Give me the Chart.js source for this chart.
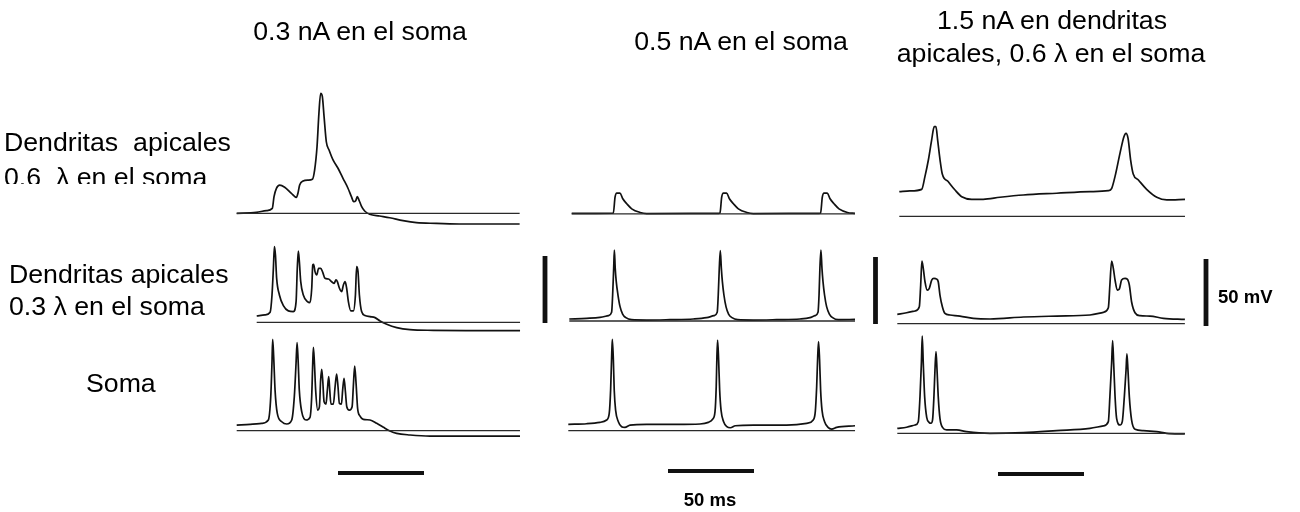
<!DOCTYPE html>
<html><head><meta charset="utf-8">
<script src="https://cdn.jsdelivr.net/npm/chart.js@4"></script>
<style>
html,body{margin:0;padding:0;background:#fff;}
#wrap{position:relative;width:1300px;height:512px;overflow:hidden;background:#fff;}
canvas{position:absolute;left:0;top:0;}
.lbl{position:absolute;font-family:"Liberation Sans",Arial,sans-serif;font-size:26.7px;color:#000;white-space:pre;line-height:1;transform:translateY(-50%);}
.ctr{transform:translate(-50%,-50%);}
.bold{font-weight:bold;font-size:18.5px;}
.clip{position:absolute;overflow:hidden;}
</style></head><body>
<div id="wrap">
<canvas id="c" width="1300" height="512"></canvas>
</div>
<script>
// ---------- data (time in ms, membrane potential in mV above reference line) ----------
const columnTitles = ["0.3 nA en el soma", "0.5 nA en el soma", "1.5 nA en dendritas\napicales, 0.6 λ en el soma"];
const rowLabels = ["Dendritas  apicales\n0.6  λ en el soma", "Dendritas apicales\n0.3 λ en el soma", "Soma"];
const scaleBarMV = 50;
const scaleBarMS = 50;

// Row 1: apical dendrites 0.6 λ
const apical06_I03 = [[0,0],[11.4,0.7],[17.3,2],[20.7,3.7],[21.7,12.4],[23.1,18.6],[25,21],[27.9,19.4],[31.8,14.9],[34.7,11.9],[35.6,14.9],[36.6,21.1],[38.6,24.1],[41.5,24.8],[44,25.4],[45.3,32.3],[46.7,49.7],[47.8,74.6],[48.8,89.6],[49.8,87],[50.8,72.1],[52.1,53.4],[53.7,47.2],[56,39.8],[58.9,33.6],[61.8,26.1],[64.7,18.7],[66.7,12.4],[68,8.7],[69.2,9.4],[70.1,12.4],[71.1,9.9],[72.5,5.4],[74.4,1.7],[77.3,-0.7],[83.1,-2],[89,-3.3],[96.7,-5.5],[104.5,-7],[116.1,-7.5],[131.6,-8],[164.5,-8]];
const apical06_I05 = [[0,0.3],[24.2,0.5],[25.2,12.4],[26.2,15.4],[28.1,15.4],[29.7,11.2],[32,7.5],[34.9,3.7],[39.8,1],[43.6,0.2],[85.5,0.3],[86.2,0.5],[87.2,12.4],[88.2,15.4],[90.1,15.4],[91.7,11.2],[94,7.5],[96.9,3.7],[101.8,1],[105.6,0.2],[143.9,0.3],[144.7,0.5],[145.7,12.4],[146.7,15.4],[148.6,15.4],[150.2,11.2],[152.5,7.5],[155.4,3.7],[160.3,1],[164.7,0.3]];
const apical06_Idend = [[0,18.4],[6.2,18.9],[13,20.1],[14.9,29.6],[16.9,42],[18.8,56.9],[20.3,66.9],[21.3,66.9],[22.3,56.9],[23.7,42],[25,31.6],[28.5,25.8],[32.4,19.6],[36.3,14.6],[42.1,12.7],[48.8,12.7],[58.5,14.2],[72.1,15.9],[91.5,17.2],[110.9,18.4],[121.5,19.1],[123.5,20.9],[125.4,29.6],[128.3,47],[130.6,59.4],[131.8,61.9],[133,58.2],[134.5,42],[136,31.6],[139,27.1],[143.8,20.1],[149.7,14.2],[155.5,12.2],[166.1,12.7]];
// Row 2: apical dendrites 0.3 λ
const apical03_I03 = [[0,4.7],[4.8,5.5],[7.8,7.5],[8.9,20.4],[9.7,40.3],[10.3,56.5],[10.9,50.2],[11.6,32.8],[13.2,20.4],[15.5,12.4],[18.4,8.5],[21.3,8],[22.9,15.4],[23.6,40.3],[24.2,53.2],[24.8,45.3],[25.6,30.3],[27.1,20.4],[29.5,15.4],[31,14.7],[32,25.4],[32.6,42.8],[33.1,43.3],[33.9,37.8],[34.9,35.3],[36,40.3],[37.2,40.3],[38.4,37.3],[39.7,32.8],[41.7,32.3],[43.6,30.3],[45,29.1],[46.1,31.6],[46.9,30.3],[48.1,25.4],[49.4,22.9],[50.4,27.9],[51.4,30.3],[52.3,25.4],[53.3,15.4],[54.7,8.5],[56.2,8.5],[57.4,20.4],[58.1,41.5],[58.9,37.8],[59.7,20.4],[61,8],[63,5],[65.9,4.2],[68.8,3.5],[71.7,1],[75.6,-1.5],[81.4,-4],[89.1,-5.5],[102.7,-6],[122.1,-6.2],[153.1,-6.2]];
const apical03_I05 = [[0,1.5],[10.1,2],[17.8,2.7],[22.7,4],[24.6,6.5],[25.2,19.4],[25.8,39.3],[26.2,53],[26.7,39.3],[27.3,29.4],[28.3,19.4],[29.5,10.7],[31,5.2],[32.9,2.5],[36.2,1],[45,0.7],[58.5,1],[72.1,1.5],[79.8,2.5],[84.1,4],[86,6.5],[86.6,19.4],[87.2,39.3],[87.8,52.5],[88.4,39.3],[89,29.4],[89.9,19.4],[91.1,10.7],[92.6,5.2],[94.6,2.5],[97.9,1],[107,0.7],[120.5,1],[134.1,1.5],[139.9,2.5],[142.8,4],[144.6,6.5],[145.2,19.4],[145.7,39.3],[146.3,53],[146.9,39.3],[147.5,29.4],[148.4,19.4],[149.6,10.7],[151.2,5.2],[153.1,2.5],[156.4,1],[166.1,1.2]];
const apical03_Idend = [[0,7],[5.4,8.2],[10.3,9.5],[12.8,12.7],[13.6,28.9],[14.3,46.8],[15.1,41.3],[16.1,31.3],[17.4,25.1],[18.6,26.4],[20,32.6],[21.3,33.8],[22.9,33.3],[23.8,31.3],[24.8,21.4],[26.2,12.7],[27.7,7.7],[30.6,6.5],[36.4,5.7],[44.2,4],[53.9,3.5],[73.3,5],[92.6,5.7],[112,6.5],[119.8,8.5],[122.7,11.9],[123.6,28.9],[124.6,46.8],[125.6,41.3],[126.6,32.6],[127.9,25.1],[129.1,25.9],[130.4,32.6],[132.4,33.8],[133.7,33.3],[134.9,28.9],[136.2,16.4],[138.2,8.2],[141.1,6],[146.9,5.7],[154.7,4],[167.2,3.2]];
// Row 3: soma
const soma_I03 = [[0,4.2],[7.8,4.7],[14.5,5.5],[18.4,8],[19.8,25.4],[20.5,50.2],[20.9,68.2],[21.5,55.2],[22.3,30.3],[23.6,12.9],[26.2,6.7],[29.1,5],[32,8],[33.5,25.4],[34.5,50.2],[35.1,65.7],[35.7,52.7],[36.4,30.3],[37.8,14.2],[40.3,8],[42.6,10],[43.6,25.4],[44.2,50.2],[44.6,62.2],[45.2,50.2],[45.9,30.3],[47.1,15.4],[48.1,17.9],[48.8,37.8],[49.4,45.8],[50,37.8],[50.8,21.6],[51.9,19.9],[52.7,30.3],[53.5,40.3],[54.1,30.3],[54.8,19.9],[56.2,19.9],[57.2,32.8],[58.1,42.3],[58.9,32.8],[59.7,20.4],[60.9,19.9],[61.6,30.3],[62.4,39.1],[63.2,29.1],[64,17.9],[65.5,15.4],[67.1,17.9],[67.8,32.8],[68.6,48.3],[69.4,35.3],[70.3,16.7],[71.7,10.9],[73.6,8.5],[77.5,8],[81.4,5.5],[85.3,2.5],[89.1,-0.2],[93,-2],[100.8,-3.2],[112.4,-4],[164.7,-4]];
const soma_I05 = [[0,4.7],[10.7,5.2],[18.4,6.2],[22.3,8],[23.8,12.9],[24.6,30.3],[25.2,55.2],[25.6,68.2],[26.2,52.7],[26.7,30.3],[27.5,15.4],[29.1,6.7],[31,3],[32.9,2.5],[35.9,4.2],[45.5,4.7],[63,4.7],[76.6,5],[81.4,6.2],[83.9,8.5],[85.3,14.2],[86,32.8],[86.4,55.2],[86.8,67.7],[87.4,52.7],[88,30.3],[88.8,15.4],[90.3,6.7],[92.2,3],[94.2,2.2],[97.1,3.7],[107.6,4.2],[126.9,4.2],[138.6,5.5],[142.4,8],[143.6,14.2],[144.4,32.8],[145,55.2],[145.5,66.4],[146.1,52.7],[146.7,30.3],[147.5,15.4],[149,6.7],[151,2.5],[153.1,1.2],[156,2.5],[166.7,3.7]];
const soma_Idend = [[0,3.7],[5.4,4.5],[10.3,6.2],[12.2,8.7],[13.2,27.4],[14,52.2],[14.5,72.6],[15.1,52.2],[15.9,27.4],[17.1,11.9],[18.6,8],[19.6,7.5],[20.5,10],[21.3,27.4],[21.9,47.3],[22.5,60.9],[23.1,47.3],[23.8,27.4],[24.8,11.2],[26.4,4.2],[28.7,2.5],[34.5,2.5],[40.3,1.2],[53.9,0],[73.3,0.5],[92.6,2],[112,3.7],[119.8,5.5],[122.7,8.7],[123.6,27.4],[124.6,52.2],[125.2,69.2],[125.8,52.2],[126.6,27.4],[127.5,11.2],[129.5,6.2],[130.8,8.7],[132,27.4],[133,47.3],[133.5,59.2],[134.1,47.3],[134.9,27.4],[136.2,10],[138.2,3],[143,2],[150.8,1.2],[156.6,0],[167.2,-0.5]];

// ---------- layout (pixel placement of each panel and scale bar) ----------
const PX_PER_MS = 1.72, PX_PER_MV = 1.34;
const panels = [
  {trace: apical06_I03,  x0: 236.7, yb: 213.3},
  {trace: apical06_I05,  x0: 571.7, yb: 213.8},
  {trace: apical06_Idend,x0: 899.3, yb: 216.3},
  {trace: apical03_I03,  x0: 256.7, yb: 322.3},
  {trace: apical03_I05,  x0: 569.3, yb: 321.0},
  {trace: apical03_Idend,x0: 897.3, yb: 323.7},
  {trace: soma_I03,      x0: 236.7, yb: 430.7},
  {trace: soma_I05,      x0: 568.3, yb: 430.7},
  {trace: soma_Idend,    x0: 897.3, yb: 433.3}
];
const vBars = [{x: 545, yb: 323}, {x: 875.5, yb: 324}, {x: 1206, yb: 326}];
const hBars = [{x: 338, y: 473}, {x: 668, y: 471}, {x: 998, y: 474}];

const gx = (px, t) => px / PX_PER_MS + t;
const gy = (py, v) => -py / PX_PER_MV + v;

const datasets = [];
panels.forEach(p => {
  const tEnd = p.trace[p.trace.length - 1][0];
  datasets.push({
    data: [{x: gx(p.x0, 0), y: gy(p.yb, 0)}, {x: gx(p.x0, tEnd), y: gy(p.yb, 0)}],
    borderColor: '#2a2a2a', borderWidth: 1.3, pointRadius: 0, tension: 0
  });
  datasets.push({
    data: p.trace.map(([t, v]) => ({x: gx(p.x0, t), y: gy(p.yb, v)})),
    borderColor: '#111', borderWidth: 1.7, pointRadius: 0, cubicInterpolationMode: 'monotone'
  });
});
vBars.forEach(b => datasets.push({
  data: [{x: gx(b.x, 0), y: gy(b.yb, 0)}, {x: gx(b.x, 0), y: gy(b.yb, scaleBarMV)}],
  borderColor: '#111', borderWidth: 4.8, pointRadius: 0, borderCapStyle: 'butt'
}));
hBars.forEach(b => datasets.push({
  data: [{x: gx(b.x, 0), y: gy(b.y, 0)}, {x: gx(b.x, scaleBarMS), y: gy(b.y, 0)}],
  borderColor: '#111', borderWidth: 4, pointRadius: 0, borderCapStyle: 'butt'
}));

new Chart(document.getElementById('c'), {
  type: 'line',
  data: {datasets},
  options: {
    responsive: false, animation: false, parsing: true,
    layout: {padding: 0},
    plugins: {legend: {display: false}, tooltip: {enabled: false}, title: {display: false}},
    scales: {
      x: {type: 'linear', display: false, min: 0, max: 1300 / PX_PER_MS},
      y: {type: 'linear', display: false, min: -512 / PX_PER_MV, max: 0}
    },
    elements: {line: {fill: false}}
  }
});

// ---------- text ----------
const wrap = document.getElementById('wrap');
function addText(txt, x, y, cls, center) {
  const d = document.createElement('div');
  d.className = 'lbl ' + (center ? 'ctr ' : '') + (cls || '');
  d.style.left = x + 'px'; d.style.top = y + 'px';
  d.textContent = txt;
  wrap.appendChild(d);
  return d;
}
addText(columnTitles[0], 360, 31, '', true);
addText(columnTitles[1], 741, 41, '', true);
const t3 = columnTitles[2].split('\n');
addText(t3[0], 1052, 20, '', true);
addText(t3[1], 1051, 53, '', true);
const r1 = rowLabels[0].split('\n');
addText(r1[0], 4, 142);
// second line of first row label is partly hidden below its box
const clip = document.createElement('div');
clip.className = 'clip';
clip.style.left = '0px'; clip.style.top = '160px'; clip.style.width = '236px'; clip.style.height = '24px';
const inner = document.createElement('div');
inner.className = 'lbl'; inner.style.left = '4px'; inner.style.top = '17px';
inner.textContent = r1[1];
clip.appendChild(inner); wrap.appendChild(clip);
const r2 = rowLabels[1].split('\n');
addText(r2[0], 9, 274);
addText(r2[1], 9, 306);
addText(rowLabels[2], 86, 383);
addText(scaleBarMV + ' mV', 1218, 297, 'bold');
addText(scaleBarMS + ' ms', 710, 500, 'bold', true);
</script>
</body></html>
